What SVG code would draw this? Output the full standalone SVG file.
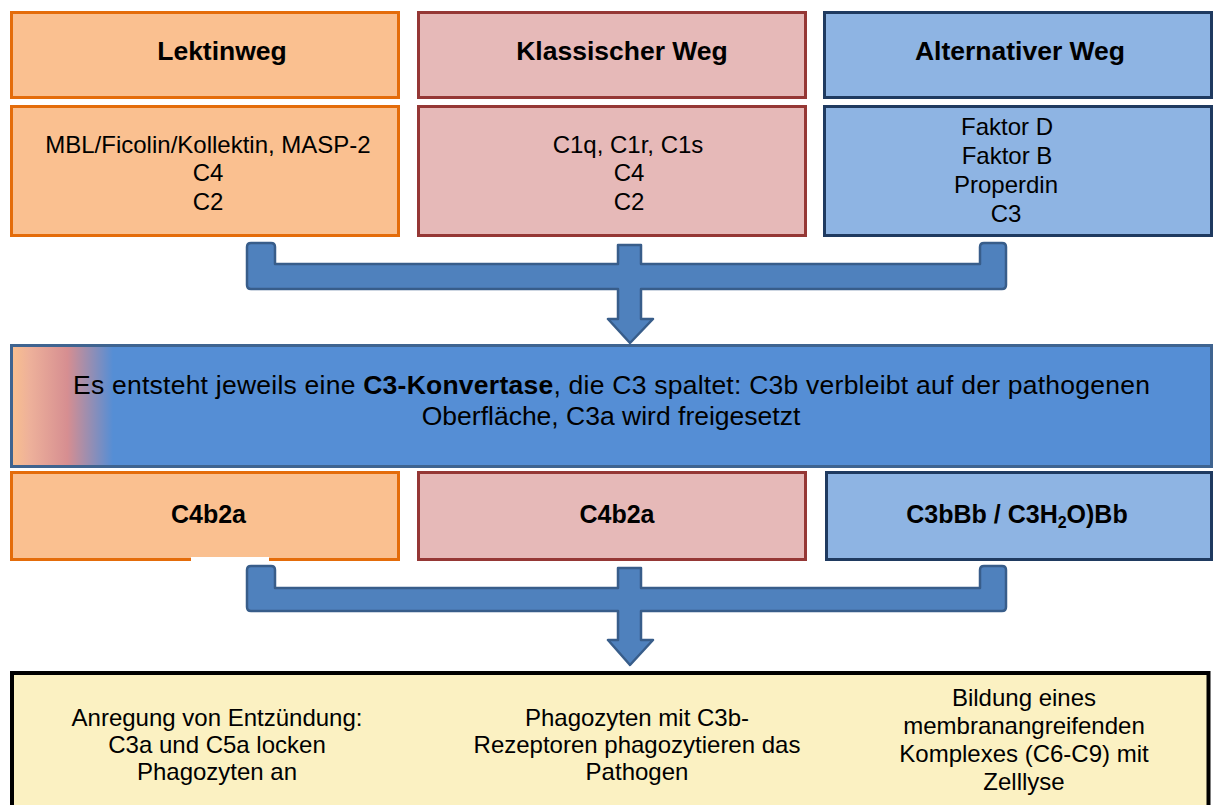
<svg xmlns="http://www.w3.org/2000/svg" width="1213" height="805" viewBox="0 0 1213 805">
<style>
text{font-family:"Liberation Sans",Arial,sans-serif;fill:#000;text-anchor:middle}
.t{font-size:26.5px;font-weight:bold}
.c{font-size:24px}
.k{font-size:25px;font-weight:bold}
.m{font-size:26.5px}
.o{fill:#FAC090;stroke:#E46C0A;stroke-width:3}
.r{fill:#E6B9B8;stroke:#953735;stroke-width:3}
.b{fill:#8EB4E3;stroke:#1F3A60;stroke-width:3}
.arr{fill:#4F81BD;stroke:#385D8A;stroke-width:2.5;stroke-linejoin:round}
</style>
<defs>
<linearGradient id="g" gradientUnits="userSpaceOnUse" x1="11" y1="0" x2="1212" y2="0">
<stop offset="0" stop-color="#F9C08F"/>
<stop offset="0.016" stop-color="#EDB09A"/>
<stop offset="0.047" stop-color="#D68E91"/>
<stop offset="0.085" stop-color="#558ED5"/>
<stop offset="1" stop-color="#558ED5"/>
</linearGradient>
</defs>
<g id="lektin-title"><rect class="o" x="11.5" y="12.5" width="387" height="85"/><text class="t" x="222" y="60">Lektinweg</text></g>
<g id="klassisch-title"><rect class="r" x="418.5" y="12.5" width="387" height="85"/><text class="t" x="622" y="60">Klassischer Weg</text></g>
<g id="alternativ-title"><rect class="b" x="824.5" y="12.5" width="387" height="85"/><text class="t" x="1020" y="60">Alternativer Weg</text></g>
<g id="lektin-comp"><rect class="o" x="11.5" y="106.5" width="387" height="129"/><text class="c" x="208" y="152.5">MBL/Ficolin/Kollektin, MASP-2</text><text class="c" x="208" y="181">C4</text><text class="c" x="208" y="209.5">C2</text></g>
<g id="klassisch-comp"><rect class="r" x="418.5" y="106.5" width="387" height="129"/><text class="c" x="628" y="152.5">C1q, C1r, C1s</text><text class="c" x="629" y="181">C4</text><text class="c" x="629" y="209.5">C2</text></g>
<g id="alternativ-comp"><rect class="b" x="824.5" y="106.5" width="387" height="129"/><text class="c" x="1007" y="135">Faktor D</text><text class="c" x="1007" y="164">Faktor B</text><text class="c" x="1006" y="193">Properdin</text><text class="c" x="1006" y="222">C3</text></g>
<g id="connectors">
<path class="arr" d="M251,243 H271 Q275,243 275,247 V264 H618 V245 H641 V264 H980 V247 Q980,243 984,243 H1002 Q1006,243 1006,247 V285 Q1006,289 1002,289 H641 V319 H653 L630,343 L608,319 H618 V289 H251 Q247,289 247,285 V247 Q247,243 251,243 Z"/>
<path class="arr" d="M251,566 H271 Q275,566 275,570 V588 H618 V568 H641 V588 H980 V570 Q980,566 984,566 H1002 Q1006,566 1006,570 V607 Q1006,611 1002,611 H641 V640 H653 L630,665 L608,640 H618 V611 H251 Q247,611 247,607 V570 Q247,566 251,566 Z"/>
</g>
<g id="konvertase"><rect x="11.5" y="345.5" width="1200" height="121" fill="url(#g)" stroke="#3F6490" stroke-width="3"/>
<text class="m" x="611.5" y="394" textLength="1077" lengthAdjust="spacing">Es entsteht jeweils eine <tspan font-weight="bold">C3-Konvertase</tspan>, die C3 spaltet: C3b verbleibt auf der pathogenen</text>
<text class="m" x="611" y="425">Oberfläche, C3a wird freigesetzt</text></g>
<g id="lektin-konv"><rect class="o" x="11.5" y="472.5" width="387" height="87"/><rect x="191" y="557" width="78" height="5" fill="#fff"/><text class="k" x="208.5" y="523">C4b2a</text></g>
<g id="klassisch-konv"><rect class="r" x="418.5" y="472.5" width="387" height="87"/><text class="k" x="617" y="523">C4b2a</text></g>
<g id="alternativ-konv"><rect class="b" x="826.5" y="472.5" width="385" height="87"/><text class="k" x="1017" y="523">C3bBb / C3H<tspan font-size="16" dy="5">2</tspan><tspan dy="-5">O)Bb</tspan></text></g>
<g id="wirkung"><rect x="12" y="673" width="1196.5" height="140" fill="#FBF1C2" stroke="#000" stroke-width="4"/>
<text class="c" x="217" y="726">Anregung von Entzündung:</text><text class="c" x="217" y="753">C3a und C5a locken</text><text class="c" x="217" y="780">Phagozyten an</text>
<text class="c" x="637" y="726">Phagozyten mit C3b-</text><text class="c" x="637" y="753">Rezeptoren phagozytieren das</text><text class="c" x="637" y="780">Pathogen</text>
<text class="c" x="1024" y="706">Bildung eines</text><text class="c" x="1024" y="734">membranangreifenden</text><text class="c" x="1024" y="762">Komplexes (C6-C9) mit</text><text class="c" x="1024" y="790">Zelllyse</text></g>
</svg>
